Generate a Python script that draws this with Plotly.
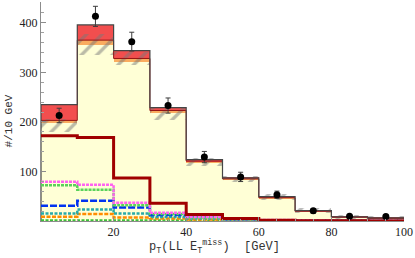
import plotly.graph_objects as go

# ---- data ----
bin_lo = [0, 10, 20, 30, 40, 50, 60, 70, 80, 90]
bin_w = 10
yellow_top = [198, 356, 321, 218, 119, 83, 46, 19, 7, 5]
orange_top = [203, 365, 328, 223, 121, 85, 47, 20, 8, 5.5]
red_top = [235, 396, 344, 229, 124, 87, 49, 21, 8.4, 6.4]
hatch_lo = [180, 335, 314, 204, 112, 79, 43, 17, 5, 3]
hatch_hi = [206, 377, 342, 228, 127, 90, 55, 26, 13, 11]
data_y = [213, 413, 362, 233, 129, 89, 53, 20.5, 9.6, 9]
data_err = [14.6, 20.3, 19.0, 15.3, 11.4, 9.4, 7.3, 4.5, 3.1, 3.0]

line_darkred = [172, 168.5, 87, 36, 13, 5, 1.5, 0.5, 0.3, 0.2]
line_magenta = [79, 73, 37, 16.5, 8, 4, 2, 1, 0.5, 0.3]
line_ltgreen = [72, 63, 32, 14, 7, 3, 1.5, 0.8, 0.4, 0.2]
line_blue = [31, 41, 27, 12, 9, 3, 1.5, 0.8, 0.4, 0.2]
line_teal = [15, 23, 15, 8, 5, 2, 1, 0.5, 0.3, 0.2]
line_orange = [8.5, 14, 7, 5, 3, 1.5, 1, 0.5, 0.3, 0.2]
line_green = [1, 1, 1, 0.8, 0.5, 0.4, 0.3, 0.2, 0.2, 0.1]

x_ticks = [20, 40, 60, 80, 100]
y_ticks = [100, 200, 300, 400]

centers = [b + bin_w / 2 for b in bin_lo]
edges_x = bin_lo + [bin_lo[-1] + bin_w]

fig = go.Figure()

def band(base, top, color):
    fig.add_trace(go.Bar(x=centers, base=base, y=[t - b for t, b in zip(top, base)],
                         width=bin_w, marker=dict(color=color, line=dict(width=0)),
                         hoverinfo="skip", showlegend=False))

band([0] * len(yellow_top), yellow_top, "rgb(255,255,214)")
band(yellow_top, orange_top, "rgb(250,172,95)")
band(orange_top, red_top, "rgb(242,78,78)")

# dark red line at bottom of red band
fig.add_trace(go.Scatter(x=edges_x, y=orange_top + [orange_top[-1]], mode="lines",
                         line=dict(color="rgb(150,20,20)", width=1, shape="hv"),
                         hoverinfo="skip", showlegend=False))

# hatched uncertainty band
fig.add_trace(go.Bar(x=centers, base=hatch_lo, y=[h - l for h, l in zip(hatch_hi, hatch_lo)],
                     width=bin_w,
                     marker=dict(color="rgba(0,0,0,0)", line=dict(width=0),
                                 pattern=dict(shape="/", fgcolor="rgb(120,120,120)",
                                              bgcolor="rgba(0,0,0,0)", size=11, solidity=0.3,
                                              fillmode="overlay")),
                     hoverinfo="skip", showlegend=False))

# outline of total
fig.add_trace(go.Scatter(x=[edges_x[0]] + edges_x + [edges_x[-1]],
                         y=[0] + red_top + [red_top[-1], 0], mode="lines",
                         line=dict(color="rgb(70,70,70)", width=1.2, shape="hv"),
                         hoverinfo="skip", showlegend=False))

def step(vals, color, dash, width=2.5):
    fig.add_trace(go.Scatter(x=edges_x, y=vals + [vals[-1]], mode="lines",
                             line=dict(color=color, width=width, dash=dash, shape="hv"),
                             hoverinfo="skip", showlegend=False))

step(line_green, "rgb(60,190,60)", "3px,1.5px")
step(line_orange, "rgb(255,140,0)", "4px,1.5px")
step(line_teal, "rgb(40,170,170)", "3px,1.5px")
step(line_blue, "rgb(0,50,240)", "7px,2px")
step(line_ltgreen, "rgb(90,210,90)", "3px,1px")
step(line_magenta, "rgb(255,100,240)", "3px,1px")
step(line_darkred, "rgb(160,0,0)", "solid", 3)

# data points
fig.add_trace(go.Scatter(x=centers, y=data_y, mode="markers",
                         marker=dict(color="black", size=7),
                         error_y=dict(type="data", array=data_err, color="rgb(60,60,60)",
                                      thickness=1, width=2.5),
                         hoverinfo="skip", showlegend=False))

fig.update_layout(
    width=415, height=258,
    margin=dict(l=41, r=8, t=2, b=37),
    paper_bgcolor="white", plot_bgcolor="white",
    barmode="overlay", bargap=0,
    showlegend=False,
    font=dict(family="Liberation Serif", size=11, color="#222"),
    xaxis=dict(range=[0, 100], showgrid=False, zeroline=False, showline=True,
               linecolor="rgb(140,140,140)", linewidth=1,
               tickmode="array", tickvals=x_ticks, ticktext=[str(v) for v in x_ticks],
               ticks="inside", ticklen=4, tickcolor="rgb(140,140,140)",
               ticklabeloverflow="allow",
               minor=dict(dtick=5, ticks="inside", ticklen=2, tickcolor="rgb(160,160,160)"),
               tickfont=dict(family="Liberation Serif", size=12, color="#222")),
    yaxis=dict(range=[0, 442], showgrid=False, zeroline=False, showline=True,
               linecolor="rgb(140,140,140)", linewidth=1,
               tickmode="array", tickvals=y_ticks, ticktext=[str(v) for v in y_ticks],
               ticks="inside", ticklen=5, tickcolor="rgb(140,140,140)",
               minor=dict(dtick=20, ticks="inside", ticklen=3, tickcolor="rgb(160,160,160)"),
               tickfont=dict(family="Liberation Serif", size=12, color="#222")),
    annotations=[
        dict(text="p<sub>T</sub>(LL E<sub>T</sub><sup>miss</sup>)  [GeV]",
             xref="paper", yref="paper", x=0.478, y=-0.12, xanchor="center", yanchor="middle",
             showarrow=False, font=dict(family="Liberation Mono", size=12, color="#333")),
        dict(text="#/10 GeV", textangle=-90,
             xref="paper", yref="paper", x=-0.088, y=0.455, xanchor="center", yanchor="middle",
             showarrow=False, font=dict(family="Liberation Mono", size=11, color="#333")),
    ],
)

fig.write_html("out.html", config={"displayModeBar": False},
               post_script="document.body.style.margin='0';")
